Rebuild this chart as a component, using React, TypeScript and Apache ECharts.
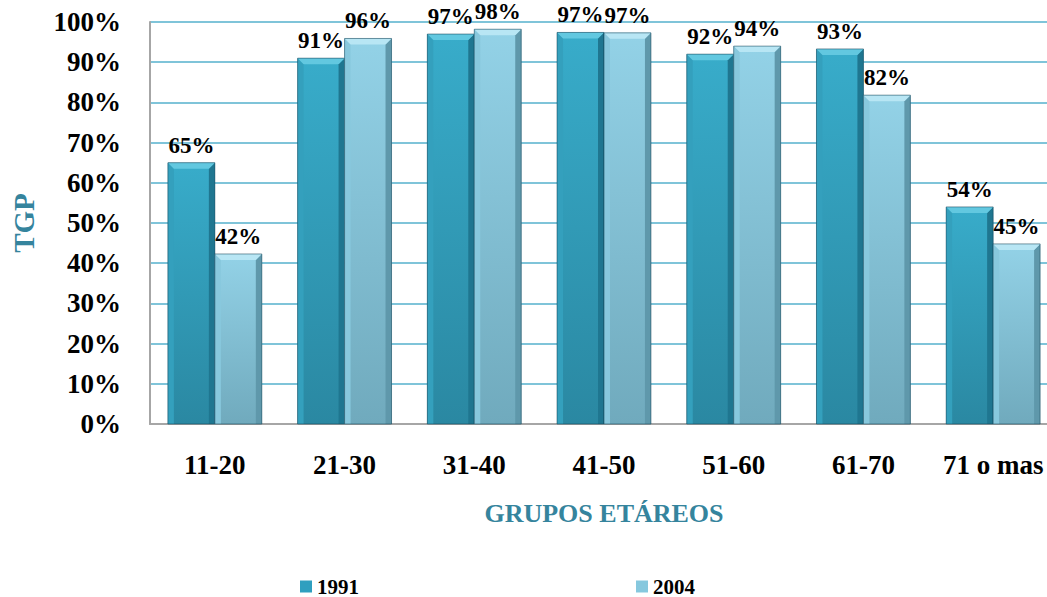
import React, { useEffect, useRef } from "react";
import * as echarts from "echarts";

const categories = ["11-20", "21-30", "31-40", "41-50", "51-60", "61-70", "71 o mas"];
const values1991 = [65, 91, 97, 97.4, 92, 93.3, 54];
const values2004 = [42.3, 95.9, 98.2, 97.3, 94, 81.8, 44.8];
const yTicks = { min: 0, max: 100, interval: 10 };
const seriesNames = ["1991", "2004"];

const palette = [
  { top: "#38acca", bottom: "#2a88a2", bevel: "#62c8e0", left: "#34a0bd", right: "#1f7690", legend: "#2f9fbf" },
  { top: "#93d2e7", bottom: "#70aabd", bevel: "#b8e6f4", left: "#88c8dd", right: "#5f98ab", legend: "#86c8de" },
];

const FONT = "Liberation Serif";

function makeRender(si: number) {
  const c = palette[si];
  return (params: any, api: any) => {
    const idx = api.value(0);
    const val = api.value(1);
    const top = api.coord([idx, val]);
    const base = api.coord([idx, 0]);
    const band = api.size([1, 0])[0];
    const bw = band * 0.362;
    const x = top[0] - bw + si * bw;
    const y = top[1];
    const yb = base[1];
    const h = yb - y;
    const b = 6;
    return {
      type: "group",
      children: [
        {
          type: "rect",
          shape: { x, y, width: bw, height: h },
          style: {
            fill: new echarts.graphic.LinearGradient(0, 0, 0, 1, [
              { offset: 0, color: c.top },
              { offset: 1, color: c.bottom },
            ]),
          },
        },
        {
          type: "polygon",
          shape: { points: [[x, y], [x + b, y + b], [x + b, yb], [x, yb]] },
          style: { fill: c.left },
        },
        {
          type: "polygon",
          shape: { points: [[x + bw, y], [x + bw - b, y + b], [x + bw - b, yb], [x + bw, yb]] },
          style: { fill: c.right },
        },
        {
          type: "polygon",
          shape: { points: [[x, y], [x + bw, y], [x + bw - b, y + b], [x + b, y + b]] },
          style: { fill: c.bevel },
        },
        {
          type: "rect",
          shape: { x, y, width: bw, height: h },
          style: { fill: "none", stroke: "rgba(20,70,90,0.55)", lineWidth: 1 },
        },
        {
          type: "text",
          style: {
            x: x + bw / 2,
            y: y - 6,
            text: Math.round(val) + "%",
            align: "center",
            verticalAlign: "bottom",
            fontFamily: FONT,
            fontWeight: "bold",
            fontSize: 23,
            fill: "#000",
          },
        },
      ],
    };
  };
}

export default function App() {
  const ref = useRef<HTMLDivElement>(null);
  useEffect(() => {
    if (!ref.current) return;
    const chart = echarts.init(ref.current, null, { renderer: "svg" });
    const seriesData = [values1991, values2004];
    chart.setOption({
      animation: false,
      backgroundColor: "#fff",
      grid: { left: 150, top: 22, width: 908, height: 402 },
      legend: {
        left: 300,
        top: 576,
        padding: 0,
        itemWidth: 12,
        itemHeight: 12,
        itemGap: 277,
        icon: "rect",
        data: seriesNames,
        textStyle: { fontFamily: FONT, fontWeight: "bold", fontSize: 21, color: "#000" },
      },
      xAxis: {
        type: "category",
        data: categories,
        name: "GRUPOS ETÁREOS",
        nameLocation: "middle",
        nameGap: 76,
        nameTextStyle: { fontFamily: FONT, fontWeight: "bold", fontSize: 26, color: "#35849d" },
        axisLine: { show: true, lineStyle: { color: "#a6a6a6", width: 2 } },
        axisTick: { show: false },
        axisLabel: {
          interval: 0,
          hideOverlap: false,
          margin: 27,
          fontFamily: FONT,
          fontWeight: "bold",
          fontSize: 27,
          color: "#000",
        },
      },
      yAxis: {
        type: "value",
        min: yTicks.min,
        max: yTicks.max,
        interval: yTicks.interval,
        name: "TGP",
        nameLocation: "middle",
        nameGap: 112,
        nameTextStyle: { fontFamily: FONT, fontWeight: "bold", fontSize: 29, color: "#35849d" },
        axisLine: { show: true, lineStyle: { color: "#a6a6a6", width: 2 } },
        axisTick: { show: false },
        splitLine: { lineStyle: { color: "#55b0cc", width: 1.5 } },
        axisLabel: {
          margin: 29,
          formatter: "{value}%",
          fontFamily: FONT,
          fontWeight: "bold",
          fontSize: 27,
          color: "#000",
        },
      },
      series: seriesNames.map((name, si) => ({
        type: "custom",
        name,
        renderItem: makeRender(si),
        itemStyle: { color: palette[si].legend },
        encode: { x: 0, y: 1 },
        data: seriesData[si].map((v, i) => [i, v]),
        z: 3,
      })),
    });
    return () => chart.dispose();
  }, []);
  return (
    <div
      style={{
        position: "fixed",
        left: 0,
        top: 0,
        width: 1047,
        height: 597,
        overflow: "hidden",
        background: "#fff",
      }}
    >
      <div ref={ref} style={{ width: 1080, height: 597 }} />
    </div>
  );
}
